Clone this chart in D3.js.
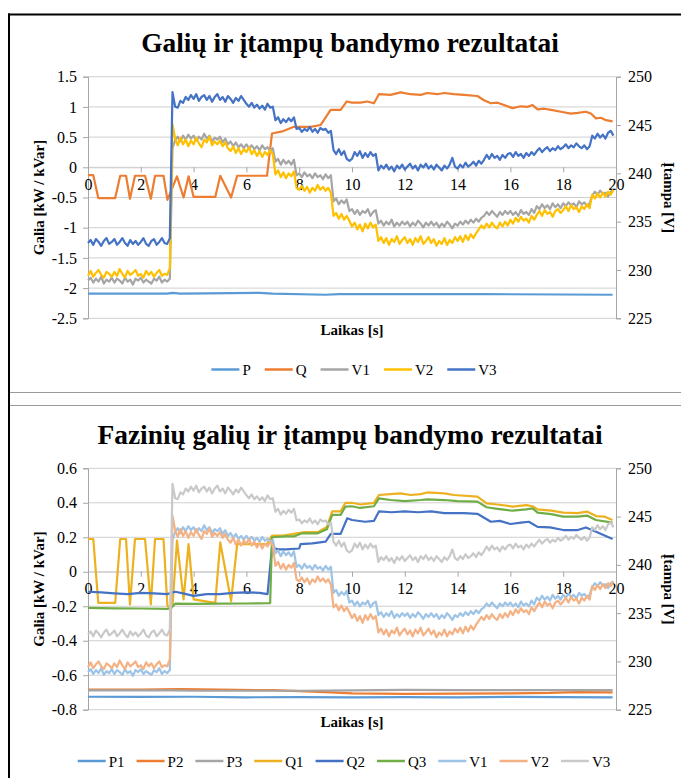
<!DOCTYPE html>
<html><head><meta charset="utf-8">
<script src="https://cdn.jsdelivr.net/npm/d3@7"></script>
<style>body{margin:0;background:#fff}svg{display:block}text{font-family:"Liberation Serif","Times New Roman",serif;fill:#000}</style>
</head><body>
<script>
// ---------- DATA ----------
const sampleStep = 0.1; // seconds between voltage samples
const V1 = [
228.9,229.2,228.7,229.1,228.8,229.3,228.6,229.0,228.8,229.2,
228.7,229.1,228.9,228.6,229.2,228.8,229.0,228.5,229.1,228.9,
229.2,228.7,229.0,228.8,228.6,229.1,228.9,229.3,228.7,229.0,
228.8,229.1,242.6,243.4,243.8,243.3,243.9,243.5,244.0,243.6,
243.9,243.4,243.8,243.5,244.1,243.6,243.9,243.3,243.7,243.5,
243.8,243.2,243.6,243.0,243.3,242.8,243.2,242.7,243.0,242.6,
243.0,242.6,242.9,242.5,242.8,242.4,242.9,242.5,242.7,242.3,
242.6,241.2,241.5,240.9,241.4,241.0,241.3,240.9,241.4,239.8,
240.0,239.6,240.1,239.7,239.9,239.5,240.0,239.6,239.8,239.4,
239.9,239.5,239.8,237.1,237.4,236.8,237.2,236.9,237.3,236.1,
236.3,235.8,236.2,235.7,236.1,235.9,236.3,235.6,236.0,236.2,
234.8,235.1,234.6,235.0,234.7,235.2,234.5,234.9,234.6,235.0,
234.7,235.0,234.5,234.9,234.6,235.1,234.8,234.4,234.9,234.6,
235.0,234.6,234.9,234.4,234.8,234.5,235.0,234.7,234.3,234.8,
234.6,235.0,234.7,235.1,234.8,235.2,234.9,235.3,235.0,235.4,
235.6,236.0,235.7,236.1,235.8,235.5,236.0,235.7,236.1,235.8,
236.1,235.7,236.0,235.6,236.2,235.8,236.0,235.7,236.3,235.9,
236.6,236.3,236.8,236.4,236.7,236.3,236.9,236.5,236.8,236.4,
236.9,236.6,237.0,236.7,236.9,236.5,237.1,236.8,237.0,236.6,
236.9,237.7,238.1,237.8,238.2,237.9,238.0,237.6,238.1,238.3];
const V2 = [
229.4,229.9,229.3,229.7,230.0,229.5,229.2,229.8,229.6,229.3,
229.8,229.4,230.1,229.6,229.2,229.9,229.5,229.7,230.0,229.4,
229.6,229.2,229.9,229.5,229.8,229.3,229.7,230.0,229.4,229.6,
229.5,230.2,245.1,243.6,242.9,243.7,243.0,243.5,242.8,243.4,
243.0,243.7,243.1,242.7,243.5,243.2,243.8,242.9,243.3,243.0,
243.4,242.8,243.2,242.6,242.3,242.8,242.1,242.6,242.0,242.5,
242.2,242.7,242.0,242.4,241.8,242.3,241.7,242.2,241.9,242.4,
242.0,239.9,240.3,239.6,240.1,239.5,240.0,239.7,240.2,238.5,
238.3,238.7,238.2,238.6,238.0,238.5,238.2,238.8,238.3,238.6,
238.2,238.5,238.0,235.6,235.9,235.3,235.8,235.2,235.6,235.1,
234.5,234.9,234.2,234.7,234.0,234.8,234.3,234.9,234.4,234.7,
233.0,233.4,232.8,233.3,232.6,233.2,232.9,233.5,232.7,233.1,
233.4,232.8,233.2,232.6,233.3,232.9,233.5,232.7,233.0,233.4,
232.8,233.2,232.5,233.0,232.7,233.3,232.6,233.1,232.8,233.4,
233.0,233.5,232.9,233.6,233.1,233.7,233.3,233.8,234.2,234.6,
234.3,234.8,234.4,234.9,234.5,234.3,234.9,234.5,235.0,234.6,
235.2,234.8,235.4,235.0,235.5,235.1,235.3,234.9,235.6,235.2,
235.7,236.1,235.6,236.2,235.8,236.0,235.5,236.1,236.3,235.9,
236.2,236.6,236.1,236.7,236.3,236.5,236.0,236.6,236.3,236.8,
236.4,237.8,237.4,237.9,237.5,238.0,237.6,238.1,237.8,238.3];
const V3 = [
232.8,233.1,232.6,233.2,232.9,232.5,233.0,233.3,232.7,232.9,
233.2,232.6,232.9,233.3,232.8,232.5,233.1,232.7,233.0,232.6,
232.9,233.3,232.7,232.5,233.0,233.2,232.6,232.9,233.3,232.8,
232.7,233.3,248.4,246.9,246.8,247.5,247.3,247.9,247.6,248.1,
247.7,248.2,247.5,247.9,248.1,247.6,248.0,247.4,247.9,248.2,
247.6,247.9,247.4,248.0,247.7,247.3,247.8,247.5,248.0,247.6,
247.2,246.9,247.3,246.8,247.1,246.7,247.0,246.6,247.2,246.8,
246.9,245.5,245.8,245.2,245.6,245.3,245.7,245.4,245.8,244.6,
244.7,244.3,244.6,244.4,244.8,244.3,244.6,244.2,244.7,244.5,
244.6,244.2,244.4,242.4,242.0,242.5,241.9,242.3,241.5,241.3,
241.5,242.2,241.8,242.3,241.6,242.1,241.7,242.2,241.8,242.0,
240.3,240.8,240.5,240.9,240.4,240.7,240.2,240.8,240.5,240.9,
240.4,240.7,241.0,240.5,240.8,240.3,240.9,240.6,241.0,240.5,
240.8,240.4,240.9,240.6,240.3,240.8,240.5,240.9,241.6,240.7,
240.5,240.9,240.6,241.1,240.7,240.9,241.2,240.8,241.3,241.0,
241.4,241.9,241.5,242.0,241.6,241.8,241.4,241.9,241.6,242.0,
242.1,241.7,242.2,241.8,242.0,241.6,242.1,241.8,242.2,241.9,
242.3,242.6,242.2,242.5,242.7,242.3,242.6,242.4,242.8,242.5,
242.7,243.0,242.6,242.9,242.7,243.1,242.8,242.6,242.9,242.5,
242.8,243.9,243.6,244.1,243.7,244.0,243.6,244.2,244.4,243.9];

// top chart (kW / kVar), [time s, value]
const P = [[0,-2.09],[3.0,-2.09],[3.2,-2.08],[3.5,-2.09],[6.5,-2.08],[7,-2.09],[9,-2.11],[9.5,-2.1],[12,-2.1],[15,-2.1],[19.87,-2.11]];
const Q = [[0,-0.13],[0.2,-0.13],[0.39,-0.51],[1.03,-0.51],[1.22,-0.14],[1.44,-0.14],[1.59,-0.52],[1.78,-0.14],[2.16,-0.14],[2.38,-0.52],[2.54,-0.14],[2.86,-0.14],[3.01,-0.54],[3.37,-0.15],[3.62,-0.5],[3.81,-0.15],[4.0,-0.49],[4.82,-0.49],[5.01,-0.14],[5.42,-0.5],[5.65,-0.14],[6.78,-0.14],[6.97,0.56],[7.4,0.6],[7.8,0.67],[8.43,0.67],[8.81,0.7],[9.19,0.95],[9.57,0.95],[9.8,1.09],[10.0,1.07],[10.32,1.07],[10.58,1.09],[10.83,1.06],[11.02,1.21],[11.46,1.2],[11.84,1.24],[12.22,1.21],[12.6,1.2],[12.85,1.23],[13.23,1.21],[13.49,1.23],[13.86,1.21],[14.24,1.2],[14.75,1.18],[15.0,1.11],[15.26,1.06],[15.51,1.07],[15.76,1.03],[16.08,0.98],[16.39,1.01],[16.65,1.0],[16.84,1.03],[17.03,0.96],[17.28,0.97],[17.54,0.95],[17.91,0.92],[18.29,0.89],[18.55,0.9],[18.86,0.92],[19.05,0.89],[19.24,0.81],[19.43,0.82],[19.62,0.78],[19.87,0.76]];

// bottom chart (kW / kVar), [time s, value]
const P1 = [[0,-0.725],[2,-0.726],[4,-0.725],[6,-0.728],[8,-0.727],[10,-0.729],[12,-0.727],[14,-0.728],[16,-0.726],[18,-0.727],[19.87,-0.728]];
const P2 = [[0,-0.683],[2,-0.683],[3.5,-0.68],[5,-0.684],[7,-0.687],[8,-0.692],[9.2,-0.7],[10,-0.705],[12,-0.708],[14,-0.707],[16,-0.705],[17.5,-0.703],[18.5,-0.698],[19.87,-0.699]];
const P3 = [[0,-0.688],[3.2,-0.688],[4,-0.69],[6,-0.69],[8,-0.69],[10,-0.688],[12,-0.685],[14,-0.686],[16,-0.686],[18,-0.687],[19.87,-0.687]];
const Q1 = [[0,0.19],[0.2,0.19],[0.39,-0.18],[1.03,-0.18],[1.22,0.19],[1.44,0.19],[1.59,-0.19],[1.78,0.19],[2.16,0.19],[2.38,-0.19],[2.54,0.19],[2.86,0.19],[3.01,-0.2],[3.2,-0.2],[3.37,0.18],[3.62,-0.16],[3.81,0.16],[4.0,-0.16],[4.4,-0.17],[4.82,-0.18],[5.01,0.17],[5.42,-0.17],[5.65,0.16],[6.78,0.16],[6.97,0.21],[7.4,0.21],[7.8,0.22],[8.2,0.23],[8.7,0.23],[9.05,0.26],[9.25,0.35],[9.57,0.35],[9.75,0.40],[10.0,0.40],[10.32,0.39],[10.83,0.4],[11.02,0.445],[11.46,0.45],[11.84,0.455],[12.22,0.445],[12.6,0.45],[12.85,0.46],[13.49,0.455],[13.86,0.445],[14.75,0.436],[15.1,0.397],[15.51,0.39],[16.08,0.378],[16.6,0.386],[16.84,0.38],[17.03,0.362],[17.54,0.355],[18.0,0.343],[18.55,0.34],[18.9,0.349],[19.24,0.323],[19.55,0.32],[19.87,0.30]];
const Q2 = [[0,-0.116],[0.5,-0.12],[1.0,-0.125],[1.5,-0.13],[2.0,-0.122],[2.5,-0.125],[3.0,-0.13],[3.3,-0.116],[3.6,-0.125],[4.0,-0.14],[4.5,-0.13],[5.0,-0.13],[5.5,-0.122],[6.0,-0.12],[6.5,-0.122],[6.8,-0.13],[6.97,0.14],[7.2,0.13],[7.5,0.13],[8.0,0.135],[8.05,0.16],[8.5,0.165],[9.0,0.175],[9.2,0.22],[9.57,0.22],[9.82,0.31],[10.0,0.30],[10.5,0.29],[10.83,0.295],[11.02,0.35],[11.5,0.345],[12.0,0.35],[12.5,0.345],[13.0,0.35],[13.5,0.34],[14.24,0.34],[14.75,0.336],[15.26,0.29],[15.6,0.295],[16.0,0.277],[16.4,0.285],[16.7,0.29],[17.03,0.26],[17.5,0.257],[18.0,0.242],[18.55,0.242],[18.86,0.257],[19.2,0.235],[19.87,0.19]];
const Q3 = [[0,-0.21],[1,-0.212],[2,-0.213],[3.0,-0.215],[3.15,-0.21],[3.3,-0.185],[4,-0.186],[5,-0.185],[6,-0.184],[6.9,-0.182],[6.97,0.20],[7.5,0.205],[7.8,0.205],[8.1,0.223],[8.7,0.223],[9.05,0.246],[9.25,0.33],[9.57,0.33],[9.75,0.378],[10.0,0.38],[10.3,0.37],[10.83,0.38],[11.02,0.426],[11.46,0.416],[12.0,0.41],[12.6,0.416],[12.85,0.42],[13.5,0.416],[14.0,0.41],[14.75,0.407],[15.1,0.374],[15.51,0.365],[16.08,0.354],[16.6,0.362],[16.84,0.368],[17.03,0.343],[17.54,0.334],[18.0,0.32],[18.55,0.32],[18.9,0.326],[19.24,0.30],[19.87,0.285]];

const xTicks = [0,2,4,6,8,10,12,14,16,18,20];
const leftTicksTop = [-2.5,-2,-1.5,-1,-0.5,0,0.5,1,1.5];
const leftTicksBottom = [-0.8,-0.6,-0.4,-0.2,0,0.2,0.4,0.6];
const rightTicks = [225,230,235,240,245,250];

const titleTop = "Galių ir įtampų bandymo rezultatai";
const titleBottom = "Fazinių galių ir įtampų bandymo rezultatai";
const yTitleLeft = "Galia [kW / kVar]";
const yTitleRight = "Įtampa [V]";
const xTitle = "Laikas [s]";

// ---------- DRAW ----------
const W = 681, H = 778;
const svg = d3.select('body').append('svg').attr('width', W).attr('height', H);
svg.append('rect').attr('width', W).attr('height', H).attr('fill', '#fff');

// frames
svg.append('line').attr('x1', 8).attr('x2', W).attr('y1', 14.5).attr('y2', 14.5).attr('stroke', '#000').attr('stroke-width', 2);
svg.append('line').attr('x1', 9).attr('x2', 9).attr('y1', 13.5).attr('y2', H).attr('stroke', '#000').attr('stroke-width', 2);
svg.append('line').attr('x1', 10).attr('x2', W).attr('y1', 392.5).attr('y2', 392.5).attr('stroke', '#9a9a9a').attr('stroke-width', 1);
svg.append('line').attr('x1', 10).attr('x2', W).attr('y1', 405.5).attr('y2', 405.5).attr('stroke', '#9a9a9a').attr('stroke-width', 1);

const fmt = v => String(Math.round(v * 10) / 10);
const vTime = V1.map((_, i) => i * sampleStep);
const asPairs = arr => arr.map((v, i) => [vTime[i], v]);

function chart(c) {
  const g = svg.append('g');
  const x = d3.scaleLinear().domain([0, 20]).range([88, 616]);
  const yL = d3.scaleLinear().domain(c.leftDomain).range([c.bottom, c.top]);
  const yR = d3.scaleLinear().domain([225, 250]).range([c.bottom, c.top]);

  // title
  g.append('text').attr('x', 350).attr('y', c.titleY).attr('text-anchor', 'middle')
    .attr('font-size', 27.4).attr('font-weight', 'bold').text(c.title);

  // gridlines
  g.append('g').selectAll('line').data(c.leftTicks).join('line')
    .attr('x1', x(0)).attr('x2', x(20)).attr('y1', d => yL(d)).attr('y2', d => yL(d))
    .attr('stroke', '#cfcfcf').attr('stroke-width', 1);

  // left axis
  const la = g.append('g').attr('transform', 'translate(' + x(0) + ',0)')
    .call(d3.axisLeft(yL).tickValues(c.leftTicks).tickSize(5).tickPadding(6).tickFormat(fmt));
  // right axis
  const ra = g.append('g').attr('transform', 'translate(' + x(20) + ',0)')
    .call(d3.axisRight(yR).tickValues(rightTicks).tickSize(5).tickPadding(7).tickFormat(d => String(d)));
  // x axis at zero
  const xa = g.append('g').attr('transform', 'translate(0,' + yL(0) + ')')
    .call(d3.axisBottom(x).tickValues(xTicks).tickSize(5).tickPadding(6).tickFormat(d => String(d)));
  [la, ra, xa].forEach(a => {
    a.selectAll('path.domain').attr('stroke', '#a6a6a6');
    a.selectAll('.tick line').attr('stroke', '#a6a6a6');
    a.selectAll('.tick text').attr('font-size', 16).attr('fill', '#000')
      .attr('font-family', '"Liberation Serif","Times New Roman",serif');
  });
  xa.select('path.domain').attr('stroke', '#cfcfcf');

  // axis titles
  const midY = (c.top + c.bottom) / 2;
  g.append('text').attr('transform', 'translate(44,' + midY + ') rotate(-90)').attr('text-anchor', 'middle')
    .attr('font-size', 15).attr('font-weight', 'bold').text(yTitleLeft);
  g.append('text').attr('transform', 'translate(664,' + midY + ') rotate(90)').attr('text-anchor', 'middle')
    .attr('font-size', 15).attr('font-weight', 'bold').text(yTitleRight);
  g.append('text').attr('x', 352).attr('y', c.bottom + 17).attr('text-anchor', 'middle')
    .attr('font-size', 15).attr('font-weight', 'bold').text(xTitle);

  // series
  const lineL = d3.line().x(d => x(d[0])).y(d => yL(d[1]));
  const lineR = d3.line().x(d => x(d[0])).y(d => yR(d[1]));
  c.series.forEach(s => {
    g.append('path').datum(s.data).attr('fill', 'none').attr('stroke', s.color)
      .attr('stroke-width', s.w || 2.2).attr('stroke-linejoin', 'round')
      .attr('d', s.axis === 'R' ? lineR : lineL);
  });

  // legend
  const lg = g.append('g');
  let cx = 0;
  const items = [];
  c.series.forEach(s => {
    const it = lg.append('g');
    it.append('line').attr('x1', 0).attr('x2', 28).attr('y1', 0).attr('y2', 0)
      .attr('stroke', s.color).attr('stroke-width', 2.5);
    const t = it.append('text').attr('x', 31).attr('y', 5.5).attr('font-size', 15).text(s.name);
    const w = 31 + t.node().getComputedTextLength();
    items.push({it, w});
  });
  const total = items.reduce((a, b) => a + b.w, 0) + c.legendGap * (items.length - 1);
  let px = c.legendCx - total / 2;
  items.forEach(o => { o.it.attr('transform', 'translate(' + px + ',' + c.legendY + ')'); px += o.w + c.legendGap; });
}

chart({
  title: titleTop, titleY: 52, top: 76.7, bottom: 318.3,
  leftDomain: [-2.5, 1.5], leftTicks: leftTicksTop,
  legendY: 369.5, legendCx: 354, legendGap: 14,
  series: [
    {name: 'P', data: P, axis: 'L', color: '#5B9BD5'},
    {name: 'Q', data: Q, axis: 'L', color: '#ED7D31'},
    {name: 'V1', data: asPairs(V1), axis: 'R', color: '#A5A5A5'},
    {name: 'V2', data: asPairs(V2), axis: 'R', color: '#FFC000'},
    {name: 'V3', data: asPairs(V3), axis: 'R', color: '#4472C4'}
  ]
});

chart({
  title: titleBottom, titleY: 444, top: 468.3, bottom: 709.7,
  leftDomain: [-0.8, 0.6], leftTicks: leftTicksBottom,
  legendY: 761, legendCx: 344, legendGap: 12,
  series: [
    {name: 'P1', data: P1, axis: 'L', color: '#5B9BD5'},
    {name: 'P2', data: P2, axis: 'L', color: '#ED7D31'},
    {name: 'P3', data: P3, axis: 'L', color: '#A5A5A5'},
    {name: 'Q1', data: Q1, axis: 'L', color: '#EDB120'},
    {name: 'Q2', data: Q2, axis: 'L', color: '#4472C4'},
    {name: 'Q3', data: Q3, axis: 'L', color: '#70AD47'},
    {name: 'V1', data: asPairs(V1), axis: 'R', color: '#9DC3E6'},
    {name: 'V2', data: asPairs(V2), axis: 'R', color: '#F4B183'},
    {name: 'V3', data: asPairs(V3), axis: 'R', color: '#C9C9C9'}
  ]
});
</script>
</body></html>
